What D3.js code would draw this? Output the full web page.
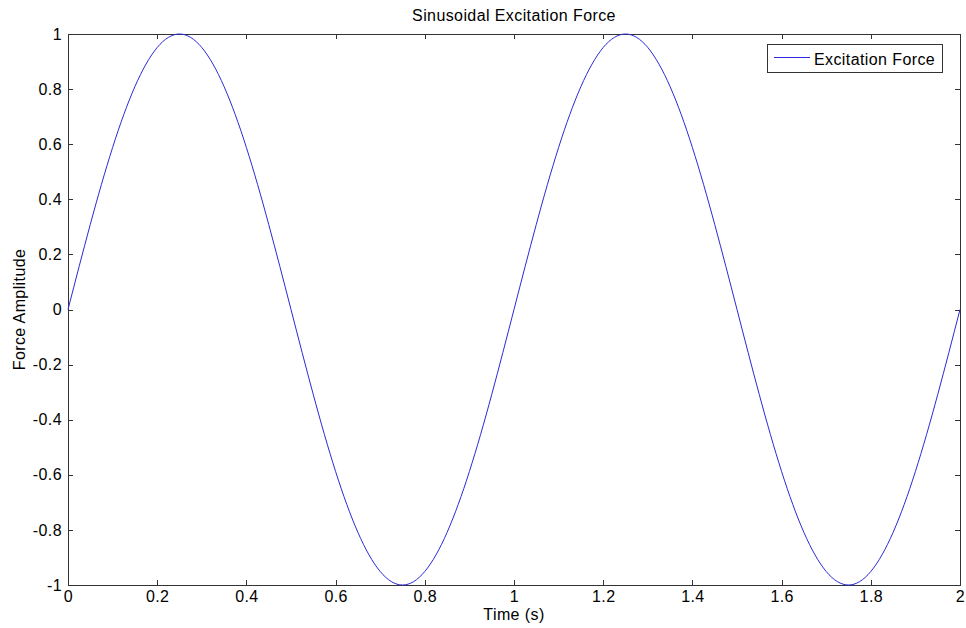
<!DOCTYPE html>
<html>
<head>
<meta charset="utf-8">
<script src="https://cdn.jsdelivr.net/npm/d3@7"></script>
<style>
    body { margin: 0; background: #fff; }
    text { font-family: "Liberation Sans", Arial, sans-serif; fill: #000; }
</style>
</head>
<body>
<svg id="chart" width="966" height="628"></svg>
<script>
var TIMES = [0, 0.05, 0.1, 0.15, 0.2, 0.25, 0.3, 0.35, 0.4, 0.45, 0.5, 0.55, 0.6, 0.65, 0.7, 0.75, 0.8, 0.85, 0.9, 0.95,
             1, 1.05, 1.1, 1.15, 1.2, 1.25, 1.3, 1.35, 1.4, 1.45, 1.5, 1.55, 1.6, 1.65, 1.7, 1.75, 1.8, 1.85, 1.9, 1.95, 2];
var FORCE = [0, 0.309, 0.588, 0.809, 0.951, 1, 0.951, 0.809, 0.588, 0.309, 0, -0.309, -0.588, -0.809, -0.951, -1, -0.951, -0.809, -0.588, -0.309,
             0, 0.309, 0.588, 0.809, 0.951, 1, 0.951, 0.809, 0.588, 0.309, 0, -0.309, -0.588, -0.809, -0.951, -1, -0.951, -0.809, -0.588, -0.309, 0];
var X_TICKS = [0, 0.2, 0.4, 0.6, 0.8, 1, 1.2, 1.4, 1.6, 1.8, 2];
var Y_TICKS = [-1, -0.8, -0.6, -0.4, -0.2, 0, 0.2, 0.4, 0.6, 0.8, 1];

var LEFT = 68, RIGHT = 960, TOP = 34, BOTTOM = 585;
var TICK_LEN = 5;
var FONT_SIZE = 16;
var LETTER_SPACING = "0.4px";
var LINE_COLOR = "#2a2ad8";

var svg = d3.select("#chart");
var xScale = d3.scaleLinear().domain([0, 2]).range([LEFT, RIGHT]);
var yScale = d3.scaleLinear().domain([-1, 1]).range([BOTTOM, TOP]);

// Axes: labels on bottom/left, inward ticks mirrored on top/right
var fmt = d => String(d);
svg.append("g")
    .attr("transform", "translate(0," + BOTTOM + ")")
    .call(d3.axisBottom(xScale).tickValues(X_TICKS).tickFormat(fmt).tickSizeInner(-TICK_LEN).tickSizeOuter(0).tickPadding(6));
svg.append("g")
    .attr("transform", "translate(0," + TOP + ")")
    .call(d3.axisTop(xScale).tickValues(X_TICKS).tickFormat("").tickSizeInner(-TICK_LEN).tickSizeOuter(0));
svg.append("g")
    .attr("transform", "translate(" + LEFT + ",0)")
    .call(d3.axisLeft(yScale).tickValues(Y_TICKS).tickFormat(fmt).tickSizeInner(-TICK_LEN).tickSizeOuter(0).tickPadding(6));
svg.append("g")
    .attr("transform", "translate(" + RIGHT + ",0)")
    .call(d3.axisRight(yScale).tickValues(Y_TICKS).tickFormat("").tickSizeInner(-TICK_LEN).tickSizeOuter(0));

svg.selectAll(".domain, .tick line").attr("stroke", "#333").attr("shape-rendering", "crispEdges");
svg.selectAll(".tick text")
    .attr("font-family", "Liberation Sans, Arial, sans-serif")
    .attr("font-size", FONT_SIZE)
    .attr("letter-spacing", LETTER_SPACING)
    .attr("fill", "#000");

// Curve
var lineGenerator = d3.line()
    .x((d, i) => xScale(TIMES[i]))
    .y(d => yScale(d))
    .curve(d3.curveNatural);
svg.append("path")
    .datum(FORCE)
    .attr("d", lineGenerator)
    .attr("fill", "none")
    .attr("stroke", LINE_COLOR)
    .attr("stroke-width", 1);

// Title and axis labels
svg.append("text")
    .attr("x", (LEFT + RIGHT) / 2)
    .attr("y", 20.5)
    .attr("text-anchor", "middle")
    .attr("font-size", FONT_SIZE)
    .attr("letter-spacing", LETTER_SPACING)
    .text("Sinusoidal Excitation Force");
svg.append("text")
    .attr("x", (LEFT + RIGHT) / 2)
    .attr("y", 620)
    .attr("text-anchor", "middle")
    .attr("font-size", FONT_SIZE)
    .attr("letter-spacing", LETTER_SPACING)
    .text("Time (s)");
svg.append("text")
    .attr("transform", "translate(25," + (TOP + BOTTOM) / 2 + ") rotate(-90)")
    .attr("text-anchor", "middle")
    .attr("font-size", FONT_SIZE)
    .attr("letter-spacing", LETTER_SPACING)
    .text("Force Amplitude");

// Legend
var legend = svg.append("g").attr("transform", "translate(767,44)");
legend.append("rect")
    .attr("width", 175)
    .attr("height", 28)
    .attr("fill", "#fff")
    .attr("stroke", "#333")
    .attr("shape-rendering", "crispEdges");
legend.append("line")
    .attr("x1", 7).attr("x2", 43)
    .attr("y1", 13.5).attr("y2", 13.5)
    .attr("stroke", LINE_COLOR);
legend.append("text")
    .attr("x", 47)
    .attr("y", 21)
    .attr("font-size", FONT_SIZE)
    .attr("letter-spacing", LETTER_SPACING)
    .text("Excitation Force");
</script>
</body>
</html>
